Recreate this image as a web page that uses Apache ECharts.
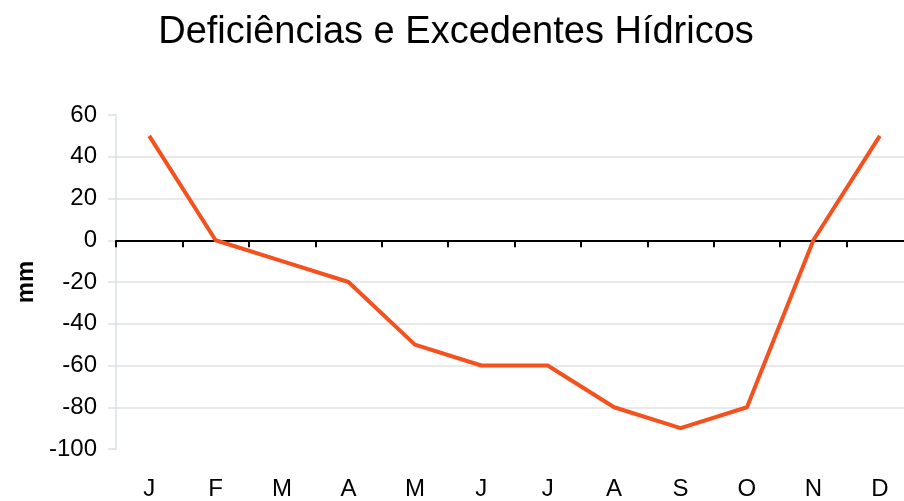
<!DOCTYPE html>
<html>
<head>
<meta charset="utf-8">
<script src="https://cdn.jsdelivr.net/npm/echarts@6/dist/echarts.min.js"></script>
<style>
  html, body { margin: 0; padding: 0; background: #fff; overflow: hidden; }
  #chart { width: 920px; height: 501px; }
</style>
</head>
<body>
<div id="chart"></div>
<script>
// meses e valores (mm)
var months = ['J', 'F', 'M', 'A', 'M', 'J', 'J', 'A', 'S', 'O', 'N', 'D']
var balance = [50, 0, -10, -20, -50, -60, -60, -80, -90, -80, 0, 50]
var yMin = -100
var yMax = 60
var yStep = 20

var chart = echarts.init(document.getElementById('chart'))
var font = 'Liberation Sans, Arial, sans-serif'

// o gráfico original corta a última categoria na borda direita
chart.setOption({
  animation: false,
  title: {
    text: 'Deficiências e Excedentes Hídricos',
    left: 451,
    textAlign: 'center',
    top: 9,
    textStyle: { fontFamily: font, fontSize: 38, fontWeight: 'normal', color: '#000' }
  },
  grid: { left: 116, right: 7, top: 115, bottom: 51, containLabel: false },
  xAxis: [
    {
      // linha do zero com marcas
      type: 'category',
      data: months,
      boundaryGap: true,
      axisLine: { onZero: true, lineStyle: { color: '#000', width: 2 } },
      axisTick: { show: true, length: 7, lineStyle: { color: '#000', width: 2 } },
      axisLabel: { show: false },
      splitLine: { show: false }
    },
    {
      // rótulos no fundo
      type: 'category',
      data: months,
      position: 'bottom',
      boundaryGap: true,
      axisLine: { show: false },
      axisTick: { show: false },
      axisLabel: { margin: 28, fontFamily: font, fontSize: 24, color: '#000' },
      splitLine: { show: false }
    }
  ],
  yAxis: {
    type: 'value',
    min: yMin,
    max: yMax,
    interval: yStep,
    name: 'mm',
    nameLocation: 'middle',
    nameRotate: 90,
    nameGap: 72,
    nameTextStyle: { fontFamily: font, fontSize: 24, fontWeight: 'bold', color: '#000' },
    axisLine: { show: true, lineStyle: { color: '#d9e1e5', width: 1.5 } },
    axisTick: { show: true, length: 8, lineStyle: { color: '#d9e1e5', width: 1.5 } },
    axisLabel: { margin: 19, fontFamily: font, fontSize: 24, color: '#000' },
    splitLine: { show: true, showMinLine: false, showMaxLine: false, lineStyle: { color: '#e2e2e2', width: 1.5 } }
  },
  series: [{
    type: 'line',
    xAxisIndex: 0,
    data: balance,
    symbol: 'none',
    lineStyle: { color: '#f4511e', width: 4 },
    z: 5
  }]
})
</script>
</body>
</html>
